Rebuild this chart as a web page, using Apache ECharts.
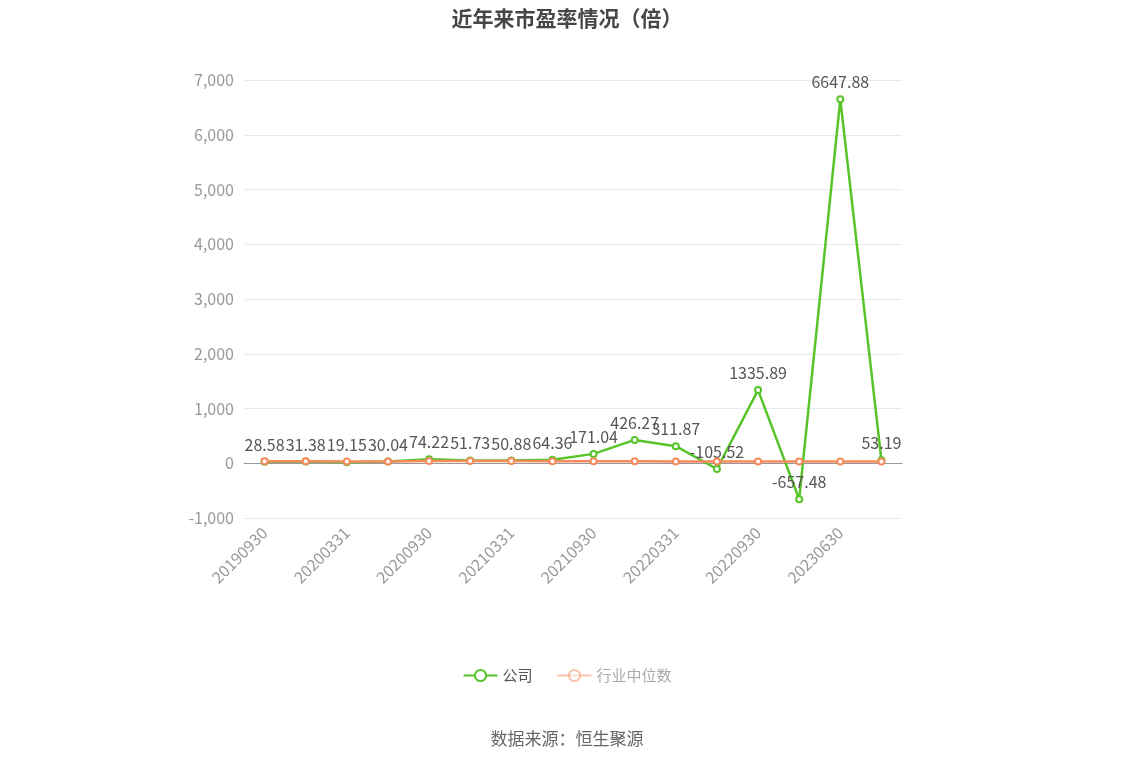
<!DOCTYPE html>
<html style="height: 100%">
<head>
<meta charset="utf-8">
<style type="text/css">
* {
	margin: 0;
	padding: 0;
}
</style>
</head>
<body style="height: 100%; margin: 0; background: #fff">
	<div id="main" style="width: 1134px; height: 766px"></div>
	<script type="text/javascript" src="https://cdn.jsdelivr.net/npm/echarts@6/dist/echarts.min.js"></script>
	<script type="text/javascript">
	var dates = ['20190930', '20191231', '20200331', '20200630', '20200930', '20201231',
		'20210331', '20210630', '20210930', '20211231', '20220331', '20220630',
		'20220930', '20221231', '20230630', '20230930'];
	var company = [28.58, 31.38, 19.15, 30.04, 74.22, 51.73, 50.88, 64.36,
		171.04, 426.27, 311.87, -105.52, 1335.89, -657.48, 6647.88, 53.19];
	var industry = [36, 35, 33, 32, 40, 42, 40, 38, 37, 36, 34, 33, 30, 31, 33, 32];

	var myChart = echarts.init(document.getElementById('main'));

	var option = {
		backgroundColor: '#fff',
		textStyle: { fontFamily: 'Noto Sans CJK SC' },
		title: {
			text: '近年来市盈率情况（倍）',
			left: 'center',
			top: 3,
			textStyle: {
				fontSize: 21,
				fontWeight: 'bold',
				color: '#464646'
			}
		},
		legend: {
			bottom: 78,
			left: 'center',
			itemWidth: 34,
			itemHeight: 14,
			itemGap: 24,
			textStyle: { fontSize: 15, color: '#555' },
			data: [
				{ name: '公司' },
				{ name: '行业中位数', itemStyle: { opacity: 0.5 }, lineStyle: { opacity: 0.5 }, textStyle: { color: '#aaa' } }
			]
		},
		graphic: [{
			type: 'text',
			left: 'center',
			top: 730,
			style: {
				text: '数据来源：恒生聚源',
				fontSize: 17,
				fill: '#666',
				fontFamily: 'Noto Sans CJK SC'
			}
		}],
		grid: {
			left: 244,
			right: 232,
			top: 80,
			bottom: 248
		},
		xAxis: {
			type: 'category',
			data: dates,
			boundaryGap: true,
			axisLine: { lineStyle: { color: '#999' } },
			axisTick: { alignWithLabel: true, lineStyle: { color: '#999' } },
			axisLabel: {
				interval: 1,
				rotate: 45,
				fontSize: 16,
				color: '#999',
				margin: 12
			}
		},
		yAxis: {
			type: 'value',
			min: -1000,
			max: 7000,
			interval: 1000,
			axisLine: { show: false },
			axisTick: { show: false },
			splitLine: { lineStyle: { color: '#e6e9f2' } },
			axisLabel: { fontSize: 16, color: '#999', margin: 10 }
		},
		series: [{
			name: '公司',
			type: 'line',
			data: company,
			symbol: 'emptyCircle',
			symbolSize: 6,
			color: '#57c42a',
			lineStyle: { width: 2.5 },
			label: {
				show: true,
				position: 'top',
				fontSize: 16,
				color: '#555'
			},
			z: 3
		}, {
			name: '行业中位数',
			type: 'line',
			data: industry,
			symbol: 'emptyCircle',
			symbolSize: 6,
			color: '#f58a5c',
			lineStyle: { width: 2.5 },
			z: 4
		}]
	};
	myChart.setOption(option);
	</script>
</body>
</html>
